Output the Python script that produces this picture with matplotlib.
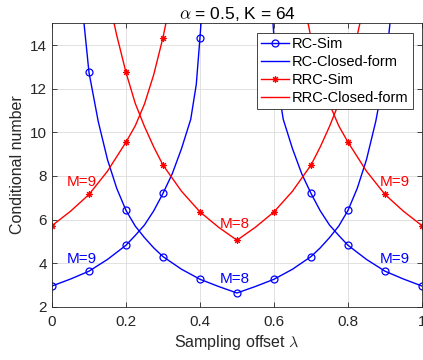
import matplotlib
matplotlib.use('Agg')
import matplotlib.pyplot as plt
from matplotlib.lines import Line2D

plt.rcParams['font.family'] = ['Liberation Sans', 'DejaVu Sans']
plt.rcParams['mathtext.fontset'] = 'cm'

# closed-form curves
rc_m8_x = [0.08, 0.1, 0.125, 0.15, 0.175, 0.2, 0.225, 0.25, 0.275, 0.3, 0.35, 0.4, 0.45, 0.5,
           0.55, 0.6, 0.65, 0.7, 0.725, 0.75, 0.775, 0.8, 0.825, 0.85, 0.875, 0.9, 0.92]
rc_m8_y = [16.1, 12.75, 10.5, 8.75, 7.43, 6.42, 5.7, 5.17, 4.7, 4.3, 3.72, 3.26, 2.93, 2.63,
           2.93, 3.26, 3.72, 4.3, 4.7, 5.17, 5.7, 6.42, 7.43, 8.75, 10.5, 12.75, 16.1]
rc_m9l_x = [0, 0.05, 0.1, 0.15, 0.2, 0.225, 0.25, 0.275, 0.3, 0.325, 0.35, 0.375, 0.39, 0.4, 0.41]
rc_m9l_y = [2.95, 3.27, 3.63, 4.17, 4.82, 5.27, 5.75, 6.4, 7.2, 8.1, 9.25, 10.6, 12.2, 14.35, 16.8]
rc_m9r_x = [0.59, 0.6, 0.61, 0.625, 0.65, 0.675, 0.7, 0.725, 0.75, 0.775, 0.8, 0.85, 0.9, 0.95, 1.0]
rc_m9r_y = [16.8, 14.35, 12.2, 10.6, 9.25, 8.1, 7.2, 6.4, 5.75, 5.27, 4.82, 4.17, 3.63, 3.27, 2.95]

rrc_m8_x = [0.16, 0.175, 0.2, 0.225, 0.25, 0.275, 0.3, 0.35, 0.4, 0.45, 0.5,
            0.55, 0.6, 0.65, 0.7, 0.725, 0.75, 0.775, 0.8, 0.825, 0.84]
rrc_m8_y = [15.6, 14.45, 12.75, 11.33, 10.27, 9.33, 8.5, 7.3, 6.35, 5.65, 5.05,
            5.65, 6.35, 7.3, 8.5, 9.33, 10.27, 11.33, 12.75, 14.45, 15.6]
rrc_m9l_x = [0, 0.05, 0.1, 0.15, 0.2, 0.225, 0.25, 0.275, 0.3, 0.315]
rrc_m9l_y = [5.72, 6.38, 7.15, 8.22, 9.55, 10.3, 11.3, 12.65, 14.35, 15.6]
rrc_m9r_x = [0.685, 0.7, 0.725, 0.75, 0.775, 0.8, 0.85, 0.9, 0.95, 1.0]
rrc_m9r_y = [15.6, 14.35, 12.65, 11.3, 10.3, 9.55, 8.22, 7.15, 6.38, 5.72]

# simulation points
rc_sim_x = [0, 0.1, 0.2, 0.3, 0.4, 0.1, 0.2, 0.3, 0.4, 0.5, 0.6, 0.7, 0.8, 0.9, 0.6, 0.7, 0.8, 0.9, 1.0]
rc_sim_y = [2.95, 3.63, 4.82, 7.2, 14.35, 12.75, 6.42, 4.3, 3.26, 2.63, 3.26, 4.3, 6.42, 12.75,
            14.35, 7.2, 4.82, 3.63, 2.95]
rrc_sim_x = [0, 0.1, 0.2, 0.3, 0.2, 0.3, 0.4, 0.5, 0.6, 0.7, 0.8, 0.7, 0.8, 0.9, 1.0]
rrc_sim_y = [5.72, 7.15, 9.55, 14.35, 12.75, 8.5, 6.35, 5.05, 6.35, 8.5, 12.75, 14.35, 9.55, 7.15, 5.72]

labels = ['RC-Sim', 'RC-Closed-form', 'RRC-Sim', 'RRC-Closed-form']

fig = plt.figure(figsize=(4.23, 3.6), dpi=100)
ax = fig.add_axes([0.1229, 0.148, 0.8747, 0.787])

lw = 1.0
star = (8, 2, 0)
for xs, ys in [(rc_m8_x, rc_m8_y), (rc_m9l_x, rc_m9l_y), (rc_m9r_x, rc_m9r_y)]:
    ax.plot(xs, ys, color='b', lw=lw)
for xs, ys in [(rrc_m8_x, rrc_m8_y), (rrc_m9l_x, rrc_m9l_y), (rrc_m9r_x, rrc_m9r_y)]:
    ax.plot(xs, ys, color='r', lw=lw)
ax.plot(rc_sim_x, rc_sim_y, ls='none', marker='o', ms=5, mfc='none', mec='b', mew=0.9)
ax.plot(rrc_sim_x, rrc_sim_y, ls='none', marker=star, ms=4.8, mec='r', mew=0.8)

ax.text(0.08, 7.54, 'M=9', color='r', fontsize=11, ha='center', va='baseline')
ax.text(0.493, 5.6, 'M=8', color='r', fontsize=11, ha='center', va='baseline')
ax.text(0.927, 7.54, 'M=9', color='r', fontsize=11, ha='center', va='baseline')
ax.text(0.08, 4.02, 'M=9', color='b', fontsize=11, ha='center', va='baseline')
ax.text(0.493, 3.07, 'M=8', color='b', fontsize=11, ha='center', va='baseline')
ax.text(0.927, 4.02, 'M=9', color='b', fontsize=11, ha='center', va='baseline')

handles = [Line2D([], [], color='b', lw=lw, marker='o', ms=5, mfc='none', mew=0.9),
           Line2D([], [], color='b', lw=lw),
           Line2D([], [], color='r', lw=lw, marker=star, ms=4.8, mew=0.8),
           Line2D([], [], color='r', lw=lw)]
leg = ax.legend(handles, labels, loc='upper right', bbox_to_anchor=(0.976, 0.966),
                borderaxespad=0, fancybox=False, framealpha=1, edgecolor='#262626',
                fontsize=10.5, handlelength=1.9, handletextpad=0.2, labelspacing=0.26,
                borderpad=0.3)
leg.get_frame().set_linewidth(0.6)

ax.set_xlim(0, 1)
ax.set_ylim(2, 15)
ax.set_xticks([0, 0.2, 0.4, 0.6, 0.8, 1])
ax.set_xticklabels(['0', '0.2', '0.4', '0.6', '0.8', '1'])
ax.set_yticks([2, 4, 6, 8, 10, 12, 14])
ax.grid(True, color='#dcdcdc', lw=0.6)
ax.set_axisbelow(True)
ax.tick_params(direction='in', top=True, right=True, labelsize=11, colors='#262626',
               length=3.5, width=0.6)
ax.tick_params(axis='x', pad=6)
for s in ax.spines.values():
    s.set_color('#262626')
    s.set_linewidth(0.6)

ax.set_title(r'$\alpha$ = 0.5, K = 64', fontsize=12.5, color='#000000', pad=3)
ax.set_xlabel(r'Sampling offset $\lambda$', fontsize=11.5, color='#262626', labelpad=3)
ax.set_ylabel('Conditional number', fontsize=11.5, color='#262626', labelpad=4)

fig.savefig('out.png', dpi=100)
